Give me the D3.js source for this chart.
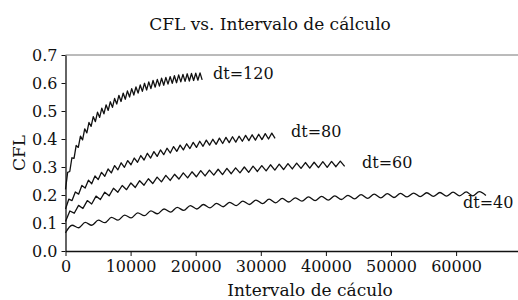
<!DOCTYPE html>
<html>
<head>
<meta charset="utf-8">
<script src="https://cdn.jsdelivr.net/npm/d3@7"></script>
<style>
  body { margin: 0; background: #fff; }
  svg text { font-family: "DejaVu Serif", serif; fill: #111; }
  .axis path, .axis line { stroke: #111; }
  .axis text { font-size: 16px; }
</style>
</head>
<body>
<div class="chart"></div>
<script>
// series names and the interval step between read points of each curve
var seriesNames = ["dt=120", "dt=80", "dt=60", "dt=40"];
var seriesSteps = [328, 503, 670, 1009];

// CFL values (peaks and troughs, one per step)
var cfl120 = [0.220, 0.281, 0.284, 0.333, 0.331, 0.377, 0.370, 0.410, 0.397, 0.436,
              0.422, 0.459, 0.445, 0.480, 0.462, 0.496, 0.477, 0.510, 0.490, 0.522,
              0.502, 0.533, 0.513, 0.545, 0.525, 0.556, 0.534, 0.564, 0.542, 0.572,
              0.550, 0.580, 0.557, 0.586, 0.564, 0.593, 0.570, 0.599, 0.575, 0.604,
              0.580, 0.609, 0.585, 0.613, 0.589, 0.617, 0.592, 0.620, 0.596, 0.623,
              0.599, 0.626, 0.601, 0.629, 0.604, 0.631, 0.606, 0.633, 0.607, 0.634,
              0.609, 0.635, 0.610, 0.636, 0.611];
var cfl80 = [0.150, 0.185, 0.180, 0.211, 0.203, 0.234, 0.225, 0.253, 0.240, 0.268,
             0.255, 0.281, 0.267, 0.293, 0.279, 0.305, 0.290, 0.315, 0.299, 0.323,
             0.308, 0.332, 0.317, 0.341, 0.325, 0.349, 0.332, 0.355, 0.338, 0.361,
             0.344, 0.367, 0.350, 0.373, 0.356, 0.378, 0.361, 0.383, 0.366, 0.388,
             0.370, 0.392, 0.374, 0.396, 0.378, 0.399, 0.381, 0.403, 0.384, 0.406,
             0.387, 0.408, 0.389, 0.410, 0.392, 0.413, 0.394, 0.415, 0.396, 0.417,
             0.398, 0.419, 0.400, 0.421, 0.402];
var cfl60 = [0.105, 0.143, 0.135, 0.163, 0.152, 0.180, 0.168, 0.196, 0.184, 0.210,
             0.197, 0.224, 0.210, 0.234, 0.219, 0.243, 0.227, 0.251, 0.235, 0.258,
             0.241, 0.264, 0.247, 0.270, 0.252, 0.274, 0.257, 0.279, 0.261, 0.283,
             0.265, 0.287, 0.268, 0.289, 0.271, 0.292, 0.273, 0.295, 0.276, 0.297,
             0.279, 0.300, 0.281, 0.303, 0.284, 0.305, 0.286, 0.308, 0.289, 0.310,
             0.291, 0.312, 0.293, 0.314, 0.295, 0.316, 0.296, 0.317, 0.298, 0.319,
             0.299, 0.320, 0.301, 0.321, 0.302];
var cfl40 = [0.065, 0.092, 0.083, 0.102, 0.092, 0.110, 0.101, 0.120, 0.110, 0.128,
             0.118, 0.136, 0.126, 0.143, 0.133, 0.150, 0.139, 0.156, 0.145, 0.162,
             0.150, 0.166, 0.154, 0.170, 0.158, 0.174, 0.162, 0.178, 0.166, 0.182,
             0.169, 0.185, 0.172, 0.188, 0.175, 0.190, 0.178, 0.193, 0.180, 0.195,
             0.182, 0.197, 0.184, 0.199, 0.186, 0.201, 0.188, 0.203, 0.190, 0.205,
             0.191, 0.206, 0.193, 0.207, 0.194, 0.208, 0.195, 0.209, 0.196, 0.210,
             0.197, 0.211, 0.197, 0.212, 0.198];

// axis ticks
var xTicks = [0, 10000, 20000, 30000, 40000, 50000, 60000];
var yTicks = [0, 0.1, 0.2, 0.3, 0.4, 0.5, 0.6, 0.7];

// this function turns a value list and its step into points
function makePoints(values, step) {
    var list = [];
    for (var i = 0; i < values.length; i++) {
        list.push({x: i * step, y: values[i]});
    }
    return list;
}

function cflChart() {
    const width = 518, height = 300;
    const margin = {top: 55, bottom: 49, left: 65.5};

    const svg = d3.select(".chart")
                  .append("svg")
                  .attr("width", width)
                  .attr("height", height);

    // scales
    var xScale = d3.scaleLinear()
                   .domain([0, 70000])
                   .range([margin.left, margin.left + 7 * 65.1]);
    var yScale = d3.scaleLinear()
                   .domain([0, 0.7])
                   .range([height - margin.bottom, margin.top]);

    // grey top border
    svg.append("line")
       .attr("x1", xScale(0))
       .attr("x2", width)
       .attr("y1", yScale(0.7))
       .attr("y2", yScale(0.7))
       .attr("stroke", "#777")
       .attr("stroke-width", 1);

    // the curves (dt=40 has rounder waves)
    var allValues = [cfl120, cfl80, cfl60, cfl40];
    var curves = [d3.curveLinear, d3.curveLinear, d3.curveLinear, d3.curveMonotoneX];

    allValues.forEach(function(values, i) {
        var line = d3.line()
                     .curve(curves[i])
                     .x(function(d) { return xScale(d.x); })
                     .y(function(d) { return yScale(d.y); });
        svg.append("path")
           .datum(makePoints(values, seriesSteps[i]))
           .attr("fill", "none")
           .attr("stroke", "#111")
           .attr("stroke-width", 1.3)
           .attr("stroke-linejoin", "round")
           .attr("d", line);
    });

    // axes
    svg.append("g")
       .attr("class", "axis")
       .attr("transform", "translate(0," + yScale(0) + ")")
       .call(d3.axisBottom(xScale).tickValues(xTicks).tickFormat(d3.format("d"))
               .tickSize(5).tickSizeOuter(0).tickPadding(5));

    svg.append("g")
       .attr("class", "axis")
       .attr("transform", "translate(" + xScale(0) + ",0)")
       .call(d3.axisLeft(yScale).tickValues(yTicks).tickFormat(d3.format(".1f"))
               .tickSize(4).tickSizeOuter(0).tickPadding(4));

    svg.selectAll(".axis .domain").attr("stroke-width", 1.3);

    // curve labels
    var labelPos = [[213, 79], [291, 137], [362, 168], [463, 208]];
    seriesNames.forEach(function(name, i) {
        svg.append("text")
           .attr("x", labelPos[i][0])
           .attr("y", labelPos[i][1])
           .attr("font-size", 16)
           .text(name);
    });

    // title
    svg.append("text")
       .attr("x", 270)
       .attr("y", 30)
       .attr("text-anchor", "middle")
       .attr("font-size", 17)
       .text("CFL vs. Intervalo de cálculo");

    // x label
    svg.append("text")
       .attr("x", 310)
       .attr("y", 296)
       .attr("text-anchor", "middle")
       .attr("font-size", 17)
       .text("Intervalo de cáculo");

    // y label
    svg.append("text")
       .attr("transform", "translate(25,153) rotate(-90)")
       .attr("text-anchor", "middle")
       .attr("font-size", 17)
       .text("CFL");
}

cflChart();
</script>
</body>
</html>
